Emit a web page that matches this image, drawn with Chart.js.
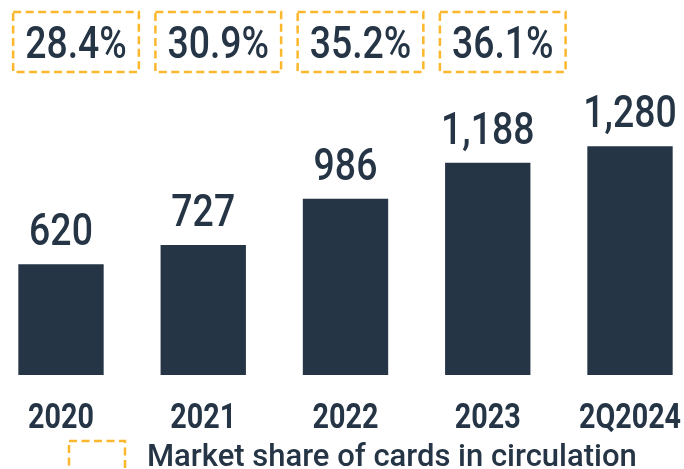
<!DOCTYPE html>
<html>
<head>
<meta charset="utf-8">
<script src="https://cdn.jsdelivr.net/npm/chart.js@4"></script>
<style>
  html, body { margin: 0; padding: 0; background: #ffffff; }
  #wrap { position: relative; width: 684px; height: 469px; }
</style>
</head>
<body>
<div id="wrap"><canvas id="chart"></canvas></div>
<script>
/* Data */
var categories = ['2020', '2021', '2022', '2023', '2Q2024'];
var cards = [620, 727, 986, 1188, 1280];
var shares = ['28.4%', '30.9%', '35.2%', '36.1%'];
var legendText = 'Market share of cards in circulation';

/* Palette */
var NAVY = '#253545';
var ORANGE = '#fcb72c';

/* Draw text squeezed horizontally (stand-in for a condensed face) */
function narrowText(ctx, text, x, y, sx, align) {
  var w = ctx.measureText(text).width * sx;
  var left = align === 'center' ? x - w / 2 : x;
  ctx.save();
  ctx.translate(left, y);
  ctx.scale(sx, 1);
  ctx.textAlign = 'left';
  ctx.fillText(text, 0, 0);
  ctx.restore();
  return w;
}

/* Value labels, category labels, dashed share boxes and the legend */
var annotations = {
  id: 'annotations',
  afterDatasetsDraw: function (chart) {
    var ctx = chart.ctx;
    var meta = chart.getDatasetMeta(0);
    var xScale = chart.scales.x;
    ctx.save();
    ctx.fillStyle = NAVY;
    ctx.textBaseline = 'alphabetic';

    /* bar values */
    ctx.font = '500 44px Roboto, sans-serif';
    meta.data.forEach(function (bar, i) {
      narrowText(ctx, cards[i].toLocaleString('en-US'), bar.x, bar.y - 19, 0.85, 'center');
    });

    /* category labels */
    ctx.font = 'bold 35px Roboto, sans-serif';
    categories.forEach(function (c, i) {
      narrowText(ctx, c, xScale.getPixelForTick(i), 428, 0.82, 'center');
    });

    /* market share boxes */
    ctx.font = '500 44px Roboto, sans-serif';
    ctx.lineWidth = 2.5;
    shares.forEach(function (s, i) {
      var bar = meta.data[i];
      var cx = bar.x + 15;
      var cy = 42;
      var w = ctx.measureText(s).width * 0.85 + 24;
      var h = 60;
      ctx.setLineDash([8, 4.5]);
      ctx.strokeStyle = ORANGE;
      ctx.strokeRect(cx - w / 2, cy - h / 2, w, h);
      ctx.setLineDash([]);
      narrowText(ctx, s, cx, cy + 16, 0.85, 'center');
    });

    /* legend */
    ctx.setLineDash([8, 4.5]);
    ctx.strokeStyle = ORANGE;
    ctx.strokeRect(69, 441, 56, 50);
    ctx.setLineDash([]);
    ctx.font = '500 31px Roboto, sans-serif';
    ctx.textAlign = 'left';
    ctx.fillText(legendText, 147, 466);

    ctx.restore();
  }
};

new Chart(document.getElementById('chart'), {
  type: 'bar',
  data: {
    labels: categories,
    datasets: [{
      data: cards,
      backgroundColor: NAVY,
      barPercentage: 0.6,
      categoryPercentage: 1,
      clip: false
    }]
  },
  options: {
    responsive: true,
    maintainAspectRatio: false,
    animation: false,
    layout: {
      padding: { left: 61, right: 54, top: 89, bottom: 94 }
    },
    plugins: {
      legend: { display: false },
      tooltip: { enabled: false }
    },
    scales: {
      x: {
        display: false,
        offset: false
      },
      y: {
        display: false,
        min: 0,
        max: 1600
      }
    }
  },
  plugins: [annotations]
});
</script>
</body>
</html>
